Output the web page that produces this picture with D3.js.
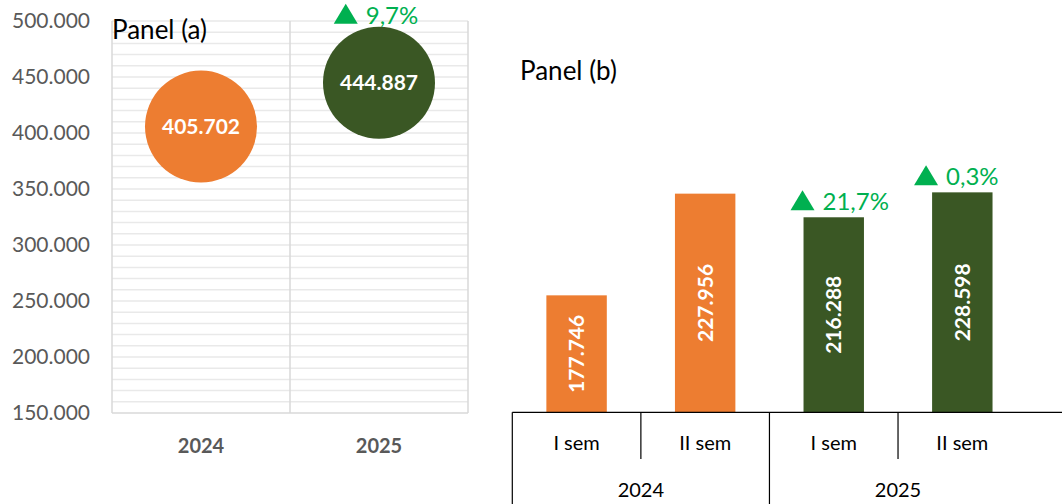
<!DOCTYPE html>
<html>
<head>
<meta charset="utf-8">
<script src="https://cdn.jsdelivr.net/npm/d3@7"></script>
<style>
  body { margin: 0; background: #fff; }
  svg { display: block; font-family: 'Lato', 'Carlito', sans-serif; }
</style>
</head>
<body>
<svg></svg>
<script>
const width = 1062;
const height = 504;

// panel (a) data
const years = ['2024', '2025'];
const yearTotals = [405702, 444887];
const yearChange = [null, '9,7%'];
const yTicks = [150000, 200000, 250000, 300000, 350000, 400000, 450000, 500000];

// panel (b) data
const semesters = ['I sem', 'II sem', 'I sem', 'II sem'];
const semYears = ['2024', '2024', '2025', '2025'];
const semValues = [177746, 227956, 216288, 228598];
const semChange = [null, null, '21,7%', '0,3%'];

const orange = '#ed7d31';
const green = '#3a5724';
const upGreen = '#00b050';

const it = d3.formatLocale({decimal: ',', thousands: '.', grouping: [3], currency: ['', '']});
const fmt = it.format(',.0f');

const svg = d3.select('svg')
  .attr('width', width)
  .attr('height', height);

/* ---------- panel (a) ---------- */
const xa = d3.scaleBand().domain(years).range([112, 468]);
const ya = d3.scaleLinear().domain([150000, 500000]).range([413, 21]);

const pa = svg.append('g');

// minor grid every 10.000
pa.selectAll('.grid')
  .data(d3.range(160000, 500001, 10000))
  .enter()
  .append('line')
    .attr('x1', 112).attr('x2', 468)
    .attr('y1', d => ya(d)).attr('y2', d => ya(d))
    .style('stroke', '#e9e9e9')
    .style('stroke-width', 1.5);

// frame + category divider
const frameX = [xa.range()[0], xa('2025'), xa.range()[1]];
pa.selectAll('.vline')
  .data(frameX)
  .enter()
  .append('line')
    .attr('x1', d => d).attr('x2', d => d)
    .attr('y1', ya(500000)).attr('y2', ya(150000))
    .style('stroke', '#d9d9d9')
    .style('stroke-width', 1.5);
pa.append('line')
  .attr('x1', 112).attr('x2', 468)
  .attr('y1', ya(150000)).attr('y2', ya(150000))
  .style('stroke', '#d9d9d9')
  .style('stroke-width', 1.5);

pa.selectAll('.ytick')
  .data(yTicks)
  .enter()
  .append('text')
    .attr('x', 90)
    .attr('y', d => ya(d))
    .attr('dy', '0.35em')
    .attr('text-anchor', 'end')
    .style('font-size', '21px')
    .style('fill', '#595959')
    .text(d => fmt(d));

pa.selectAll('.xtick')
  .data(years)
  .enter()
  .append('text')
    .attr('x', d => xa(d) + xa.bandwidth() / 2)
    .attr('y', 446)
    .attr('dy', '0.35em')
    .attr('text-anchor', 'middle')
    .style('font-size', '20px')
    .style('font-weight', 'bold')
    .style('fill', '#595959')
    .text(d => d);

pa.append('text')
  .attr('x', 112)
  .attr('y', 39)
  .style('font-size', '26px')
  .style('fill', '#000')
  .text('Panel (a)');

const bubbles = pa.selectAll('.bubble')
  .data(years.map((y, i) => ({year: y, value: yearTotals[i], change: yearChange[i]})))
  .enter()
  .append('g');

bubbles.append('circle')
  .attr('cx', d => xa(d.year) + xa.bandwidth() / 2)
  .attr('cy', d => ya(d.value))
  .attr('r', 56)
  .style('fill', (d, i) => i === 0 ? orange : green);

bubbles.append('text')
  .attr('x', d => xa(d.year) + xa.bandwidth() / 2)
  .attr('y', d => ya(d.value))
  .attr('dy', '0.35em')
  .attr('text-anchor', 'middle')
  .style('font-size', '21px')
  .style('font-weight', 'bold')
  .style('fill', '#fff')
  .text(d => fmt(d.value));

/* ---------- panel (b) ---------- */
const xb = d3.scaleBand()
  .domain(d3.range(semValues.length))
  .range([512.3, 1026.6])
  .paddingInner(0.53)
  .paddingOuter(0.265);
const yb = d3.scaleLinear().domain([120000, 250000]).range([412.3, 149]);

const pb = svg.append('g');

pb.append('text')
  .attr('x', 520)
  .attr('y', 80)
  .style('font-size', '26px')
  .style('fill', '#000')
  .text('Panel (b)');

const bars = pb.selectAll('.bar')
  .data(semValues.map((v, i) => ({i: i, value: v, change: semChange[i], year: semYears[i]})))
  .enter()
  .append('g');

bars.append('rect')
  .attr('x', d => xb(d.i))
  .attr('y', d => yb(d.value))
  .attr('width', xb.bandwidth())
  .attr('height', d => yb(120000) - yb(d.value))
  .style('fill', d => d.year === '2024' ? orange : green);

bars.append('text')
  .attr('transform', d => {
    const cx = xb(d.i) + xb.bandwidth() / 2;
    const cy = (yb(d.value) + yb(120000)) / 2;
    return `translate(${cx},${cy}) rotate(-90)`;
  })
  .attr('dy', '0.35em')
  .attr('text-anchor', 'middle')
  .style('font-size', '21px')
  .style('font-weight', 'bold')
  .style('fill', '#fff')
  .text(d => fmt(d.value));

// category axis
const step = xb.step();
const x0 = xb.range()[0];
pb.append('line')
  .attr('x1', x0).attr('x2', width)
  .attr('y1', yb(120000)).attr('y2', yb(120000))
  .style('stroke', '#000')
  .style('stroke-width', 1.2);

pb.selectAll('.sep')
  .data([0, 1, 2, 3])
  .enter()
  .append('line')
    .attr('x1', d => x0 + d * step).attr('x2', d => x0 + d * step)
    .attr('y1', yb(120000))
    .attr('y2', d => d % 2 === 0 ? height : 459)
    .style('stroke', '#000')
    .style('stroke-width', 1.2);

pb.selectAll('.semlab')
  .data(semesters)
  .enter()
  .append('text')
    .attr('x', (d, i) => xb(i) + xb.bandwidth() / 2)
    .attr('y', 443)
    .attr('dy', '0.35em')
    .attr('text-anchor', 'middle')
    .style('font-size', '20px')
    .style('fill', '#000')
    .text(d => d);

pb.selectAll('.yearlab')
  .data(years)
  .enter()
  .append('text')
    .attr('x', (d, i) => x0 + (i * 2 + 1) * step)
    .attr('y', 490)
    .attr('dy', '0.35em')
    .attr('text-anchor', 'middle')
    .style('font-size', '20px')
    .style('fill', '#000')
    .text(d => d);

/* ---------- change labels (triangle + %) ---------- */
function changeLabel(g, cx, baseline, label) {
  const lab = g.append('g');
  const t = lab.append('text')
    .attr('y', baseline)
    .style('font-size', '24px')
    .style('fill', upGreen)
    .text(label);
  const tw = t.node().getComputedTextLength();
  const triW = 24, triH = 20, gap = 8;
  const total = triW + gap + tw;
  const left = cx - total / 2;
  lab.append('path')
    .attr('d', `M${left},${baseline} L${left + triW},${baseline} L${left + triW / 2},${baseline - triH}Z`)
    .style('fill', upGreen);
  t.attr('x', left + triW + gap);
}

yearChange.forEach((c, i) => {
  if (!c) return;
  changeLabel(svg, xa(years[i]) + xa.bandwidth() / 2 - 3, ya(yearTotals[i]) - 59, c);
});

semChange.forEach((c, i) => {
  if (!c) return;
  const off = i === 2 ? 6 : -6;
  changeLabel(svg, xb(i) + xb.bandwidth() / 2 + off, yb(semValues[i]) - 7, c);
});
</script>
</body>
</html>
